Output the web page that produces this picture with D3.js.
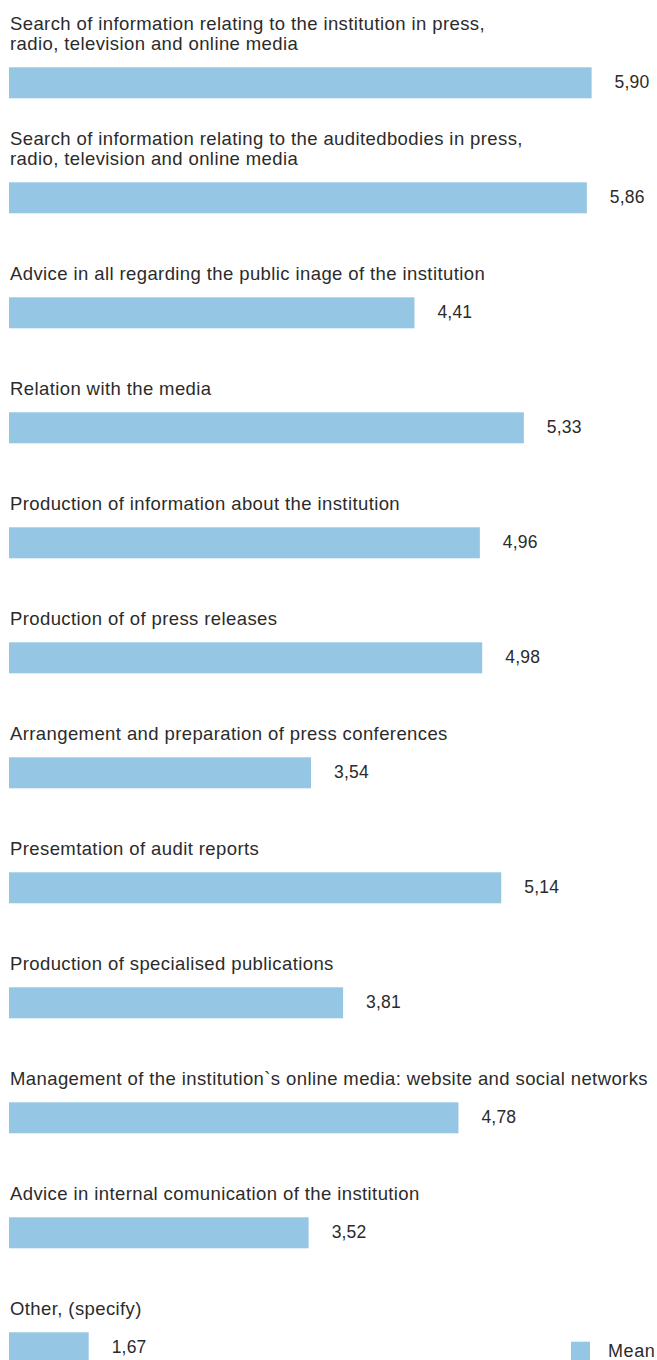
<!DOCTYPE html>
<html>
<head>
<meta charset="utf-8">
<script src="https://cdn.jsdelivr.net/npm/d3@7"></script>
<style>
  html, body { margin: 0; padding: 0; background: #ffffff; }
  svg { display: block; }
  text { font-family: "Liberation Sans", Arial, Helvetica, sans-serif; fill: #2b2b2b; }
</style>
</head>
<body>
<svg id="chart" width="657" height="1360"></svg>
<script>
// Services provided by the communication office — mean rating per activity
const categories = [
  "Search of information relating to the institution in press,\nradio, television and online media",
  "Search of information relating to the auditedbodies in press,\nradio, television and online media",
  "Advice in all regarding the public inage of the institution",
  "Relation with the media",
  "Production of information about the institution",
  "Production of of press releases",
  "Arrangement and preparation of press conferences",
  "Presemtation of audit reports",
  "Production of specialised publications",
  "Management of the institution`s online media: website and social networks",
  "Advice in internal comunication of the institution",
  "Other, (specify)"
];
const meanValues = [5.90, 5.86, 4.41, 5.33, 4.96, 4.98, 3.54, 5.14, 3.81, 4.78, 3.52, 1.67];
const seriesName = "Mean";
const scaleMin = 1, scaleMax = 6;

const data = categories.map((c, i) => ({ category: c, value: meanValues[i] }));

const svg = d3.select("#chart");

const locale = d3.formatLocale({ decimal: ",", thousands: ".", grouping: [3], currency: ["", " €"] });
const fmt = locale.format(".2f");

const x = d3.scaleLinear().domain([scaleMin, scaleMax]).range([9, 603.5]);
const y = d3.scaleBand()
  .domain(categories)
  .range([67.3, 67.3 + 115 * (categories.length - 0.7304)])
  .paddingInner(0.7304)
  .paddingOuter(0);

const barColor = "#95c6e3";

const rows = svg.selectAll("g.row").data(data).join("g").attr("class", "row");

// bars
rows.append("rect")
  .attr("x", x(scaleMin))
  .attr("y", d => y(d.category))
  .attr("width", d => x(d.value) - x(scaleMin))
  .attr("height", y.bandwidth())
  .attr("fill", barColor);

// category labels above each bar (may wrap onto two lines)
rows.append("text")
  .attr("class", "cat")
  .attr("font-size", 18.5)
  .attr("letter-spacing", 0.4)
  .each(function (d) {
    const lines = d.category.split("\n");
    const t = d3.select(this);
    const top = y(d.category);
    lines.forEach((ln, k) => {
      t.append("tspan")
        .attr("x", 10)
        .attr("y", top - 17 - (lines.length - 1 - k) * 20.5)
        .text(ln);
    });
  });

// value labels to the right of each bar
rows.append("text")
  .attr("font-size", 17.5)
  .attr("letter-spacing", 0.2)
  .attr("x", d => x(d.value) + 23)
  .attr("y", d => y(d.category) + 21)
  .text(d => fmt(d.value));

// legend
const legend = svg.append("g").attr("class", "legend");
legend.append("rect")
  .attr("x", 571).attr("y", 1341.7)
  .attr("width", 19).attr("height", 19)
  .attr("fill", barColor);
legend.append("text")
  .attr("x", 608).attr("y", 1357)
  .attr("font-size", 18)
  .attr("letter-spacing", 0.6)
  .text(seriesName);
</script>
</body>
</html>
